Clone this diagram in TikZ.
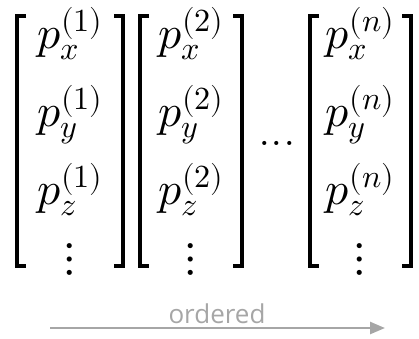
\documentclass[tikz,border=0pt]{standalone}
\usepackage{fontspec}
\usepackage{unicode-math}
\newfontfamily\labelfont{Open Sans}
\usepackage{tikz}
\usetikzlibrary{arrows.meta}

\newcommand\pcomp[2]{p_{#1}^{\raisebox{0pt}[0pt][0pt]{$\scriptstyle(#2)$}}}

\begin{document}
\begin{tikzpicture}[
  x=1pt, y=-1pt,
  >={Triangle[length=15pt, width=12pt]},
  entry/.style={anchor=base, inner sep=0pt, font=\fontsize{46}{54}\selectfont},
  vdot/.style={anchor=center, inner sep=0pt, font=\fontsize{48}{56}\selectfont},
  hdot/.style={anchor=center, inner sep=0pt, font=\fontsize{50}{60}\selectfont},
  bracket/.style={line width=3.6pt},
  lab/.style={anchor=base, inner sep=0pt, text=gray!70, font=\labelfont\fontsize{26}{30}\selectfont}
]
  \useasboundingbox (0,0) rectangle (419,338);

  % first vector
  \node[entry] (p1x) at (70,48)  {$\pcomp{x}{1}$};
  \node[entry] (p1y) at (70,126) {$\pcomp{y}{1}$};
  \node[entry] (p1z) at (70,204) {$\pcomp{z}{1}$};
  \node[vdot]  (v1)  at (70,259) {$\vdots$};
  \draw[bracket] (26,16) -| (17,266) -- (26,266);
  \draw[bracket] (114,16) -| (123,266) -- (114,266);

  % second vector
  \node[entry] (p2x) at (191,48)  {$\pcomp{x}{2}$};
  \node[entry] (p2y) at (191,126) {$\pcomp{y}{2}$};
  \node[entry] (p2z) at (191,204) {$\pcomp{z}{2}$};
  \node[vdot]  (v2)  at (191,259) {$\vdots$};
  \draw[bracket] (149,16) -| (140,266) -- (149,266);
  \draw[bracket] (233,16) -| (242,266) -- (233,266);

  \node[hdot] (dots) at (277,143) {...};

  % n-th vector
  \node[entry] (pnx) at (360,48)  {$\pcomp{x}{n}$};
  \node[entry] (pny) at (360,126) {$\pcomp{y}{n}$};
  \node[entry] (pnz) at (360,204) {$\pcomp{z}{n}$};
  \node[vdot]  (vn)  at (360,259) {$\vdots$};
  \draw[bracket] (319,16) -| (310,266) -- (319,266);
  \draw[bracket] (402,16) -| (411,266) -- (402,266);

  % ordering arrow
  \node[lab] (ord) at (217,323) {ordered};
  \coordinate (ordL) at (50,328);
  \coordinate (ordR) at (385,328);
  \draw[->, gray!70, line width=2.5pt] (ordL) -- (ordR);
\end{tikzpicture}
\end{document}
